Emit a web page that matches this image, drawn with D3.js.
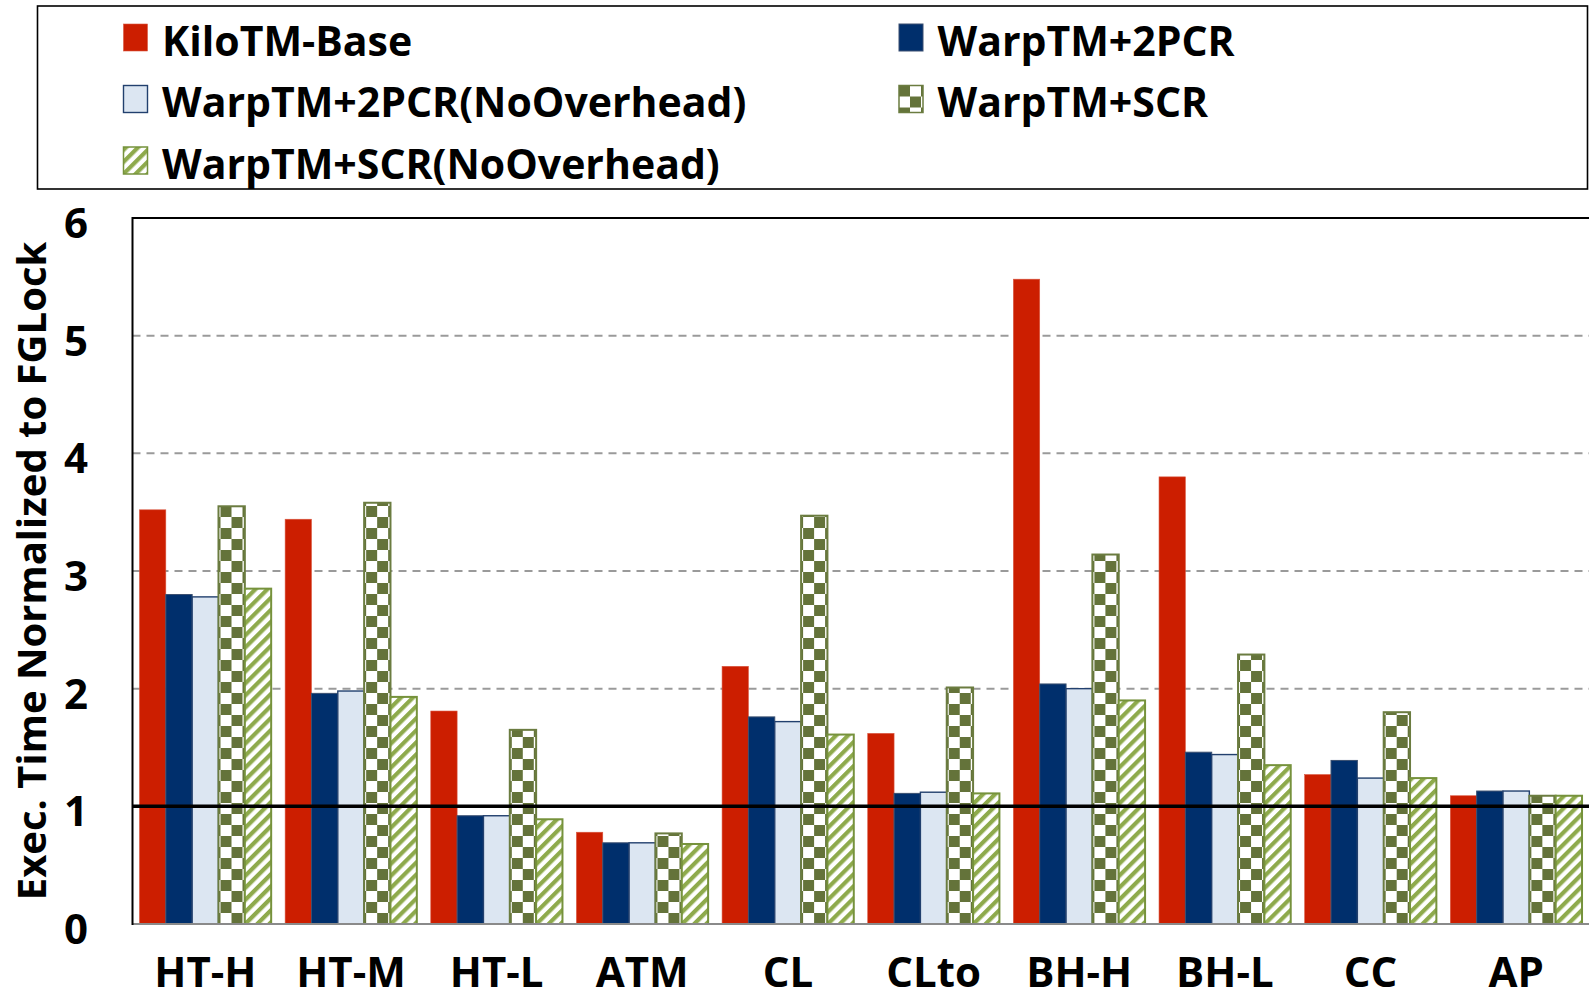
<!DOCTYPE html>
<html><head><meta charset="utf-8">
<script src="https://cdn.jsdelivr.net/npm/d3@7"></script>
<style>body{margin:0;background:#fff;} svg{display:block}</style>
</head><body><svg id="c" width="1589" height="993"></svg>
<script>
const categories = ["HT-H","HT-M","HT-L","ATM","CL","CLto","BH-H","BH-L","CC","AP"];
const seriesNames = ["KiloTM-Base","WarpTM+2PCR","WarpTM+2PCR(NoOverhead)","WarpTM+SCR","WarpTM+SCR(NoOverhead)"];
const kiloBase   = [3.52,3.44,1.81,0.78,2.19,1.62,5.48,3.80,1.27,1.09];
const warp2pcr   = [2.80,1.96,0.92,0.69,1.76,1.11,2.04,1.46,1.39,1.13];
const warp2pcrNo = [2.78,1.98,0.92,0.69,1.72,1.12,2.00,1.44,1.24,1.13];
const warpScr    = [3.55,3.58,1.65,0.77,3.47,2.01,3.14,2.29,1.80,1.09];
const warpScrNo  = [2.85,1.93,0.89,0.68,1.61,1.11,1.90,1.35,1.24,1.09];
const yTicks = [0,1,2,3,4,5,6];
const gridTicks = [2,3,4,5];
const refValue = 1;
const yTitle = "Exec. Time Normalized to FGLock";

const seriesValues = [kiloBase, warp2pcr, warp2pcrNo, warpScr, warpScrNo];
const FONT = "'Open Sans', 'Noto Sans', sans-serif";
const FS = 42, FS_LEG = 41, FS_TITLE = 40;

const svg = d3.select("#c");
const defs = svg.append("defs");
// checker pattern
const chk = defs.append("pattern").attr("id","checker").attr("patternUnits","userSpaceOnUse")
  .attr("width",22).attr("height",22);
chk.append("rect").attr("width",22).attr("height",22).attr("fill","#fff");
chk.append("rect").attr("width",11).attr("height",11).attr("fill","#64733a");
chk.append("rect").attr("x",11).attr("y",11).attr("width",11).attr("height",11).attr("fill","#64733a");
// stripe pattern
const str = defs.append("pattern").attr("id","stripes").attr("patternUnits","userSpaceOnUse")
  .attr("width",8.5).attr("height",8.5).attr("patternTransform","rotate(45)");
str.append("rect").attr("width",8.5).attr("height",8.5).attr("fill","#fff");
str.append("rect").attr("width",4.2).attr("height",8.5).attr("fill","#8eaa4c");

const styles = [
  {fill:"#cc1e00", stroke:"#d9563f", sw:0.6},
  {fill:"#002f6c", stroke:"#3a4f70", sw:1},
  {fill:"#dce6f2", stroke:"#22406e", sw:1.4},
  {fill:"url(#checker)", stroke:"#6b7c40", sw:2},
  {fill:"url(#stripes)", stroke:"#76923c", sw:2}
];

const plot = {left:132.5, right:1589, top:218, bottom:924};
const x0 = d3.scaleBand().domain(categories).range([plot.left, plot.right]).paddingInner(0).paddingOuter(0);
const x1 = d3.scaleBand().domain(d3.range(seriesNames.length)).range([0, x0.bandwidth()]).paddingInner(0).paddingOuter(0.265);
const y = d3.scaleLinear().domain([0,6]).range([plot.bottom, plot.top]);

// gridlines
svg.append("g").selectAll("line").data(gridTicks).join("line")
  .attr("x1",plot.left).attr("x2",plot.right)
  .attr("y1",d=>y(d)).attr("y2",d=>y(d))
  .attr("stroke","#9a9a9a").attr("stroke-width",2).attr("stroke-dasharray","8,6");

// bars
const groups = svg.append("g").selectAll("g").data(categories).join("g")
  .attr("transform",d=>`translate(${x0(d)},0)`);
groups.selectAll("rect").data((c,ci)=>seriesValues.map((vals,si)=>({si, v:vals[ci]}))).join("rect")
  .attr("x",d=>x1(d.si)).attr("width",x1.bandwidth())
  .attr("y",d=>y(d.v)).attr("height",d=>y(0)-y(d.v))
  .attr("fill",d=>styles[d.si].fill).attr("stroke",d=>styles[d.si].stroke)
  .attr("stroke-width",d=>styles[d.si].sw);

// axes frame
svg.append("line").attr("x1",plot.left).attr("x2",plot.right).attr("y1",plot.bottom).attr("y2",plot.bottom)
  .attr("stroke","#8a8a8a").attr("stroke-width",2.2);
svg.append("line").attr("x1",plot.left).attr("x2",plot.right).attr("y1",plot.top).attr("y2",plot.top)
  .attr("stroke","#000").attr("stroke-width",2);
svg.append("line").attr("x1",plot.left).attr("x2",plot.left).attr("y1",plot.top-1).attr("y2",plot.bottom+1)
  .attr("stroke","#000").attr("stroke-width",2);
// reference line at 1
svg.append("line").attr("x1",plot.left).attr("x2",plot.right).attr("y1",y(refValue)).attr("y2",y(refValue))
  .attr("stroke","#000").attr("stroke-width",3.5);

// y tick labels
svg.append("g").selectAll("text").data(yTicks).join("text")
  .attr("x",88).attr("y",d=>y(d)+20).attr("text-anchor","end")
  .attr("font-family",FONT).attr("font-weight",700).attr("font-size",FS).attr("fill","#000")
  .text(d=>d);

// x labels
svg.append("g").selectAll("text").data(categories).join("text")
  .attr("x",d=>x0(d)+x0.bandwidth()/2).attr("y",987).attr("text-anchor","middle")
  .attr("font-family",FONT).attr("font-weight",700).attr("font-size",FS).attr("fill","#000")
  .text(d=>d);

// y title
svg.append("text").attr("transform",`translate(46,571) rotate(-90)`).attr("text-anchor","middle")
  .attr("font-family",FONT).attr("font-weight",700).attr("font-size",FS_TITLE).attr("fill","#000")
  .text(yTitle);

// legend
svg.append("rect").attr("x",37.5).attr("y",6).attr("width",1550).attr("height",183)
  .attr("fill","#fff").attr("stroke","#000").attr("stroke-width",1.6);
const leg = svg.append("g").selectAll("g").data(seriesNames).join("g")
  .attr("transform",(d,i)=>`translate(${i%2===0?123.5:899},${24+Math.floor(i/2)*61.5})`);
leg.append("rect").attr("width",24).attr("height",27)
  .attr("fill",(d,i)=>styles[i].fill).attr("stroke",(d,i)=>styles[i].stroke).attr("stroke-width",(d,i)=>Math.min(styles[i].sw,1.5));
leg.append("text").attr("x",38.5).attr("y",31.5)
  .attr("font-family",FONT).attr("font-weight",700).attr("font-size",FS_LEG).attr("fill","#000")
  .text(d=>d);
</script></body></html>
